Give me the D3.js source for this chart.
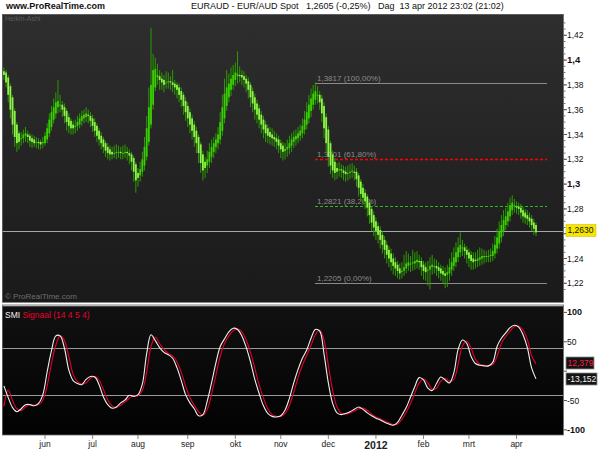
<!DOCTYPE html>
<html><head><meta charset="utf-8">
<script src="https://cdn.jsdelivr.net/npm/d3@7"></script>
<style>body{margin:0;background:#fff}svg{display:block;font-family:"Liberation Sans",Arial,sans-serif}</style>
</head><body><svg id="c" width="600" height="450"></svg>
<script>
// ---------- DATA ----------
const haOpen=[
1.391,1.390,1.386,1.379,1.370,1.359,1.348,1.341,1.337,1.337,
1.339,1.340,1.339,1.337,1.336,1.334,1.334,1.334,1.333,1.333,
1.336,1.341,1.346,1.352,1.357,1.362,1.364,1.364,1.362,1.359,
1.354,1.351,1.348,1.346,1.347,1.348,1.351,1.353,1.354,1.356,
1.355,1.353,1.350,1.347,1.343,1.339,1.336,1.333,1.330,1.328,
1.326,1.325,1.325,1.326,1.326,1.325,1.325,1.326,1.325,1.324,
1.321,1.316,1.309,1.307,1.310,1.315,1.322,1.334,1.348,1.364,
1.378,1.386,1.387,1.385,1.384,1.382,1.382,1.383,1.382,1.381,
1.380,1.378,1.375,1.372,1.367,1.363,1.358,1.353,1.348,1.343,
1.338,1.332,1.324,1.318,1.315,1.318,1.322,1.326,1.330,1.333,
1.336,1.343,1.353,1.363,1.370,1.376,1.380,1.384,1.387,1.388,
1.388,1.387,1.385,1.383,1.380,1.375,1.370,1.365,1.361,1.356,
1.352,1.348,1.345,1.342,1.340,1.338,1.337,1.336,1.333,1.331,
1.328,1.328,1.329,1.331,1.334,1.336,1.337,1.339,1.341,1.344,
1.348,1.353,1.359,1.364,1.368,1.372,1.372,1.369,1.363,1.354,
1.344,1.333,1.324,1.318,1.313,1.312,1.312,1.311,1.310,1.309,
1.309,1.310,1.310,1.310,1.307,1.302,1.297,1.293,1.290,1.285,
1.280,1.275,1.270,1.266,1.263,1.259,1.255,1.251,1.247,1.244,
1.240,1.237,1.235,1.232,1.230,1.230,1.232,1.234,1.235,1.236,
1.236,1.237,1.238,1.238,1.235,1.233,1.231,1.231,1.233,1.234,
1.234,1.233,1.232,1.230,1.228,1.227,1.228,1.231,1.234,1.237,
1.241,1.245,1.248,1.249,1.247,1.245,1.243,1.240,1.239,1.238,
1.239,1.240,1.241,1.242,1.242,1.242,1.242,1.244,1.248,1.252,
1.257,1.262,1.267,1.270,1.274,1.279,1.282,1.282,1.282,1.281,
1.279,1.277,1.275,1.273,1.272,1.269,1.267];
const haClose=[
1.388,1.382,1.372,1.360,1.348,1.338,1.333,1.334,1.337,1.340,
1.341,1.338,1.335,1.334,1.333,1.334,1.333,1.332,1.334,1.339,
1.345,1.352,1.358,1.362,1.366,1.367,1.364,1.360,1.355,1.350,
1.347,1.345,1.345,1.347,1.350,1.353,1.355,1.356,1.357,1.355,
1.351,1.347,1.343,1.339,1.336,1.333,1.330,1.327,1.325,1.324,
1.324,1.325,1.326,1.326,1.325,1.325,1.326,1.325,1.323,1.318,
1.310,1.303,1.305,1.312,1.320,1.330,1.345,1.362,1.380,1.392,
1.393,1.388,1.384,1.382,1.380,1.382,1.383,1.382,1.380,1.378,
1.376,1.372,1.368,1.363,1.358,1.353,1.348,1.343,1.338,1.333,
1.325,1.317,1.311,1.313,1.320,1.326,1.330,1.333,1.336,1.340,
1.350,1.362,1.373,1.378,1.381,1.385,1.388,1.390,1.389,1.387,
1.386,1.384,1.381,1.376,1.370,1.365,1.360,1.356,1.352,1.348,
1.344,1.341,1.339,1.338,1.337,1.336,1.334,1.331,1.328,1.326,
1.327,1.330,1.333,1.336,1.338,1.339,1.341,1.343,1.347,1.352,
1.358,1.364,1.369,1.373,1.375,1.372,1.366,1.357,1.345,1.333,
1.322,1.315,1.311,1.309,1.310,1.312,1.311,1.309,1.308,1.309,
1.310,1.311,1.309,1.304,1.297,1.292,1.289,1.286,1.281,1.275,
1.269,1.265,1.262,1.259,1.255,1.251,1.247,1.243,1.240,1.237,
1.234,1.232,1.230,1.228,1.230,1.233,1.236,1.237,1.236,1.237,
1.238,1.239,1.237,1.233,1.230,1.229,1.231,1.234,1.235,1.234,
1.232,1.230,1.228,1.227,1.226,1.229,1.233,1.237,1.241,1.245,
1.249,1.251,1.249,1.246,1.243,1.240,1.238,1.237,1.238,1.240,
1.241,1.242,1.242,1.242,1.242,1.243,1.246,1.251,1.257,1.262,
1.267,1.271,1.274,1.278,1.283,1.285,1.283,1.281,1.280,1.277,
1.274,1.273,1.272,1.270,1.267,1.264,1.261];
const haHigh=[
1.394,1.392,1.388,1.381,1.372,1.361,1.350,1.343,1.342,1.344,
1.346,1.343,1.341,1.340,1.339,1.338,1.337,1.336,1.338,1.342,
1.349,1.357,1.363,1.369,1.374,1.384,1.372,1.367,1.365,1.361,
1.357,1.353,1.351,1.352,1.355,1.357,1.359,1.360,1.362,1.360,
1.358,1.356,1.353,1.349,1.345,1.342,1.338,1.335,1.333,1.331,
1.330,1.331,1.332,1.331,1.330,1.331,1.332,1.330,1.328,1.326,
1.323,1.318,1.313,1.318,1.326,1.338,1.355,1.378,1.426,1.405,
1.402,1.397,1.392,1.390,1.388,1.391,1.390,1.387,1.392,1.384,
1.382,1.381,1.378,1.374,1.370,1.366,1.361,1.356,1.351,1.346,
1.340,1.334,1.327,1.322,1.327,1.333,1.336,1.338,1.341,1.346,
1.358,1.372,1.385,1.392,1.389,1.394,1.396,1.398,1.407,1.395,
1.392,1.391,1.388,1.386,1.382,1.378,1.373,1.368,1.364,1.359,
1.355,1.351,1.348,1.346,1.345,1.343,1.341,1.339,1.336,1.334,
1.333,1.336,1.339,1.341,1.343,1.344,1.346,1.348,1.353,1.359,
1.366,1.372,1.377,1.380,1.382,1.379,1.375,1.372,1.366,1.357,
1.347,1.335,1.327,1.321,1.317,1.318,1.316,1.315,1.314,1.315,
1.316,1.317,1.315,1.313,1.309,1.304,1.300,1.296,1.292,1.288,
1.282,1.278,1.273,1.269,1.266,1.262,1.258,1.254,1.250,1.248,
1.244,1.241,1.238,1.236,1.237,1.243,1.246,1.244,1.242,1.247,
1.245,1.246,1.243,1.241,1.238,1.237,1.238,1.241,1.243,1.240,
1.239,1.237,1.235,1.234,1.233,1.235,1.240,1.245,1.249,1.253,
1.257,1.261,1.255,1.252,1.250,1.248,1.246,1.245,1.245,1.247,
1.249,1.248,1.247,1.246,1.247,1.248,1.252,1.258,1.264,1.270,
1.275,1.279,1.281,1.285,1.289,1.291,1.288,1.286,1.285,1.284,
1.282,1.280,1.279,1.277,1.275,1.272,1.269];
const haLow=[
1.384,1.378,1.366,1.353,1.340,1.330,1.326,1.328,1.331,1.333,
1.334,1.333,1.330,1.329,1.330,1.329,1.328,1.328,1.329,1.331,
1.333,1.338,1.343,1.349,1.353,1.357,1.358,1.354,1.349,1.343,
1.341,1.340,1.340,1.341,1.343,1.345,1.347,1.349,1.350,1.349,
1.346,1.342,1.338,1.334,1.331,1.328,1.325,1.322,1.320,1.319,
1.320,1.321,1.320,1.321,1.320,1.320,1.321,1.319,1.316,1.311,
1.302,1.293,1.298,1.302,1.306,1.311,1.319,1.331,1.345,1.360,
1.375,1.380,1.376,1.376,1.374,1.377,1.377,1.376,1.374,1.372,
1.369,1.366,1.362,1.356,1.351,1.346,1.341,1.336,1.330,1.325,
1.317,1.309,1.303,1.305,1.309,1.313,1.317,1.321,1.325,1.328,
1.332,1.339,1.349,1.359,1.366,1.371,1.376,1.379,1.381,1.382,
1.380,1.378,1.374,1.369,1.362,1.358,1.352,1.349,1.345,1.341,
1.337,1.334,1.333,1.332,1.331,1.330,1.328,1.325,1.321,1.319,
1.320,1.322,1.324,1.326,1.329,1.331,1.333,1.335,1.337,1.340,
1.344,1.349,1.354,1.360,1.364,1.365,1.360,1.350,1.337,1.325,
1.314,1.308,1.305,1.303,1.304,1.306,1.305,1.303,1.302,1.303,
1.304,1.305,1.303,1.298,1.290,1.286,1.283,1.280,1.274,1.268,
1.262,1.258,1.255,1.252,1.248,1.244,1.240,1.236,1.233,1.230,
1.227,1.226,1.224,1.223,1.224,1.226,1.228,1.230,1.229,1.230,
1.231,1.232,1.231,1.226,1.223,1.222,1.218,1.215,1.227,1.228,
1.226,1.224,1.222,1.220,1.216,1.217,1.222,1.226,1.230,1.233,
1.237,1.241,1.242,1.240,1.236,1.233,1.231,1.231,1.232,1.233,
1.234,1.235,1.236,1.237,1.237,1.237,1.238,1.240,1.244,1.248,
1.253,1.258,1.263,1.266,1.270,1.275,1.277,1.276,1.275,1.272,
1.269,1.268,1.267,1.265,1.262,1.259,1.258];
// SMI and signal, one value every 2 bars (bar 0,2,4,...,246)
const smiValues=[
-25,-45,-62,-69,-64,-57,-57,-59,-55,-40,
-1,35,60,60,39,2,-16,-21,-23,-14,
-9,-10,-23,-44,-57,-63,-61,-54,-49,-41,
-43,-40,-22,30,62,52,40,32,28,22,
6,-16,-40,-54,-64,-76,-74,-51,-20,14,
42,55,67,73,71,60,41,16,-14,-38,
-59,-72,-77,-78,-76,-66,-46,-20,3,22,
36,56,71,68,29,-20,-55,-71,-74,-72,
-69,-65,-61,-65,-71,-76,-80,-83,-87,-90,
-92,-87,-75,-62,-44,-26,-11,-15,-29,-33,
-21,-10,-15,-20,-3,37,53,47,25,13,
10,9,9,15,42,56,65,74,78,75,
62,40,5,-13.152];
const signalValues=[
-60,-32,-50,-64,-67,-61,-57,-58,-57,-49,
-25,13,44,60,52,25,-5,-18,-22,-20,
-12,-9,-15,-31,-49,-59,-62,-58,-52,-46,
-42,-42,-33,-2,42,58,47,37,30,26,
16,-2,-25,-45,-58,-69,-75,-65,-39,-7,
25,47,60,69,72,67,53,32,5,-23,
-46,-64,-74,-77,-77,-72,-58,-36,-11,10,
27,44,62,70,53,10,-33,-61,-72,-73,
-71,-68,-64,-63,-67,-73,-78,-81,-85,-88,
-91,-90,-82,-70,-55,-37,-20,-13,-20,-31,
-29,-17,-12,-17,-14,12,43,51,39,20,
12,10,9,11,25,47,59,68,76,77,
70,54,26,12.379];
const monthLabels=["jun","jul","aug","sep","okt","nov","dec","2012","feb","mrt","apr"];
const monthStart=[19,41,62,85,107,128,150,172,194,215,237];
const priceTicks=[1.22,1.24,1.26,1.28,1.30,1.32,1.34,1.36,1.38,1.40,1.42];
const boldPrice=[1.30,1.40];
const fibLevels=[1.3817,1.3201,1.2821,1.2205];
const fibLabels=["1,3817 (100,00%)","1,3201 (61,80%)","1,2821 (38,20%)","1,2205 (0,00%)"];
const fibStyle=["solid","red","green","solid"];
const markerLevel=1.2630;
const smiTicks=[100,50,-50,-100];
const smiBands=[40,-40];
const lastSmi=-13.152, lastSignal=12.379;

// ---------- LAYOUT ----------
const svg=d3.select("#c");
const L=2, R=563, mT=14, mB=302, sT=305, sB=435;
const N=haClose.length;
const x=d3.scaleLinear().domain([0,N-1]).range([3.9,536]);
const y=d3.scaleLinear().domain([1.22,1.42]).range([283.3,35.3]);
const ys=d3.scaleLinear().domain([-100,100]).range([429.9,312.4]);
const trim=v=>String(+v.toFixed(4)).replace('.',',');
const fix=(v,n)=>v.toFixed(n).replace('.',',');

const defs=svg.append("defs");
const g1=defs.append("linearGradient").attr("id","gm").attr("x1",0).attr("y1",0).attr("x2",0).attr("y2",1);
g1.append("stop").attr("offset",0).attr("stop-color","#2e2e2e");
g1.append("stop").attr("offset",1).attr("stop-color","#1a1a1a");
const g2=defs.append("linearGradient").attr("id","gs").attr("x1",0).attr("y1",0).attr("x2",0).attr("y2",1);
g2.append("stop").attr("offset",0).attr("stop-color","#111");
g2.append("stop").attr("offset",1).attr("stop-color","#020202");
defs.append("clipPath").attr("id","cm").append("rect").attr("x",L).attr("y",mT).attr("width",R-L).attr("height",mB-mT);
defs.append("clipPath").attr("id","cs").append("rect").attr("x",L).attr("y",sT+1).attr("width",R-L).attr("height",sB-sT-1);

// header
svg.append("text").attr("x",6).attr("y",9).attr("font-size",9).attr("font-weight","bold").attr("fill","#111").text("www.ProRealTime.com");
svg.append("text").attr("x",191).attr("y",9).attr("font-size",9).attr("fill","#111").style("white-space","pre")
  .text("EURAUD - EUR/AUD Spot   1,2605 (-0,25%)   Dag  13 apr 2012 23:02 (21:02)");

// main panel
svg.append("rect").attr("x",L).attr("y",mT).attr("width",R-L).attr("height",mB-mT).attr("fill","url(#gm)");
svg.append("text").attr("x",5).attr("y",21).attr("font-size",7).attr("fill","#5a5a5a").text("Heikin-Ashi");
svg.append("text").attr("x",5).attr("y",299).attr("font-size",8).attr("fill","#6e6e6e").text("© ProRealTime.com");

const gm=svg.append("g").attr("clip-path","url(#cm)");
gm.append("line").attr("x1",L).attr("x2",R).attr("y1",Math.round(y(markerLevel))+1.5).attr("y2",Math.round(y(markerLevel))+1.5).attr("stroke","#a8a8a8").attr("stroke-width",1);
fibLevels.forEach((v,k)=>{
  const yy=Math.round(y(v))+0.5;
  const ln=gm.append("line").attr("x1",315).attr("x2",547).attr("y1",yy).attr("y2",yy);
  if(fibStyle[k]==="solid") ln.attr("stroke","#8a8a8a").attr("stroke-width",1);
  else ln.attr("stroke",fibStyle[k]==="red"?"#ff0000":"#2fb82a").attr("stroke-width",fibStyle[k]==="red"?1.3:1).attr("stroke-dasharray","3,2");
  gm.append("text").attr("x",317).attr("y",yy-3).attr("font-size",8).attr("fill","#8a8a8a").text(fibLabels[k]);
});
// candles
const bars=d3.range(N).map(i=>({i,o:haOpen[i],c:haClose[i],h:haHigh[i],l:haLow[i]}));
gm.selectAll("line.w").data(bars).enter().append("line").attr("class","w")
  .attr("x1",d=>x(d.i)).attr("x2",d=>x(d.i)).attr("y1",d=>y(d.h)).attr("y2",d=>y(d.l))
  .attr("stroke","#2c9a00").attr("stroke-width",1);
gm.selectAll("rect.b").data(bars).enter().append("rect").attr("class","b")
  .attr("x",d=>x(d.i)-0.9).attr("width",1.8)
  .attr("y",d=>y(Math.max(d.o,d.c))).attr("height",d=>Math.max(1,Math.abs(y(d.o)-y(d.c))))
  .attr("fill",d=>d.c>=d.o?"#38d000":"#8cf545");

// price axis
svg.append("line").attr("x1",R+0.5).attr("x2",R+0.5).attr("y1",mT).attr("y2",mB).attr("stroke","#9a9a9a");
const minor=d3.range(1.215,1.4301,0.005);
svg.selectAll("line.mn").data(minor).enter().append("line").attr("class","mn")
  .attr("x1",R).attr("x2",R+2.5).attr("y1",d=>y(d)).attr("y2",d=>y(d)).attr("stroke","#777");
const pa=svg.append("g");
priceTicks.forEach(v=>{
  pa.append("line").attr("x1",R).attr("x2",R+4).attr("y1",y(v)).attr("y2",y(v)).attr("stroke","#555");
  if(Math.abs(v-markerLevel)<0.006) return; // label hidden behind the marker box
  const b=boldPrice.some(t=>Math.abs(t-v)<1e-9);
  pa.append("text").attr("x",567).attr("y",y(v)+3).attr("font-size",b?9.5:8.5).attr("font-weight",b?"bold":"normal").attr("fill","#111").text(trim(v));
});
svg.append("rect").attr("x",566).attr("y",y(markerLevel)-5.5).attr("width",30).attr("height",12).attr("fill","#f7e600").attr("stroke","#c8b800").attr("stroke-width",0.5);
svg.append("text").attr("x",567.5).attr("y",y(markerLevel)+3.5).attr("font-size",8.5).attr("fill","#111").text(fix(markerLevel,4));

// SMI panel
svg.append("rect").attr("x",L).attr("y",sT).attr("width",R-L).attr("height",sB-sT).attr("fill","url(#gs)");
svg.append("line").attr("x1",L).attr("x2",R).attr("y1",sT+0.5).attr("y2",sT+0.5).attr("stroke","#e6e6e6").attr("stroke-width",1.5);
const gs=svg.append("g").attr("clip-path","url(#cs)");
smiBands.forEach(v=>gs.append("line").attr("x1",L).attr("x2",R).attr("y1",Math.round(ys(v))+0.5).attr("y2",Math.round(ys(v))+0.5).attr("stroke","#9a9a9a"));
const lineGen=d3.line().x((d,k)=>x(k*2)).y(d=>ys(d)).curve(d3.curveCatmullRom);
gs.append("path").attr("d",lineGen(signalValues)).attr("fill","none").attr("stroke","#e8002c").attr("stroke-width",1.1);
gs.append("path").attr("d",lineGen(smiValues)).attr("fill","none").attr("stroke","#f0f0f0").attr("stroke-width",1.1);
const lg=svg.append("text").attr("x",5).attr("y",318).attr("font-size",8.5);
lg.append("tspan").attr("fill","#f2f2f2").text("SMI ");
lg.append("tspan").attr("fill","#e8002c").text("Signaal (14 4 5 4)");

// SMI axis
svg.append("line").attr("x1",R+0.5).attr("x2",R+0.5).attr("y1",sT).attr("y2",sB).attr("stroke","#9a9a9a");
smiTicks.concat([0]).forEach(v=>{
  svg.append("line").attr("x1",R).attr("x2",R+4).attr("y1",ys(v)).attr("y2",ys(v)).attr("stroke","#555");
});
smiTicks.forEach(v=>{
  const b=Math.abs(v)===100;
  svg.append("text").attr("x",567).attr("y",ys(v)+3).attr("font-size",b?9:8.5).attr("font-weight",b?"bold":"normal").attr("fill","#111").text(v);
});
function valBox(v,col,yy){
  svg.append("rect").attr("x",566).attr("y",yy-6).attr("width",v<0?31:28).attr("height",12).attr("fill","#141414").attr("stroke","#8a8a8a").attr("stroke-width",0.8);
  svg.append("text").attr("x",567.5).attr("y",yy+3).attr("font-size",8.5).attr("fill",col).text(fix(v,3));
}
valBox(lastSignal,"#ff1a3c",363);
valBox(lastSmi,"#f4f4f4",379);

// time axis
monthStart.forEach((m,k)=>{
  svg.append("line").attr("x1",x(m)).attr("x2",x(m)).attr("y1",sB).attr("y2",sB+4).attr("stroke","#888");
  const yr=monthLabels[k]==="2012";
  svg.append("text").attr("x",x(m)).attr("y",yr?449:447).attr("text-anchor","middle").attr("font-size",yr?10.5:8.5).attr("font-weight",yr?"bold":"normal").attr("fill","#222").text(monthLabels[k]);
});
svg.append("rect").attr("x",L+0.5).attr("y",sT).attr("width",R-L).attr("height",sB-sT).attr("fill","none").attr("stroke","#6a6a6a").attr("stroke-width",0.8);
svg.append("rect").attr("x",L+0.5).attr("y",mT+0.5).attr("width",R-L).attr("height",mB-mT).attr("fill","none").attr("stroke","#6a6a6a").attr("stroke-width",0.8);
</script></body></html>
